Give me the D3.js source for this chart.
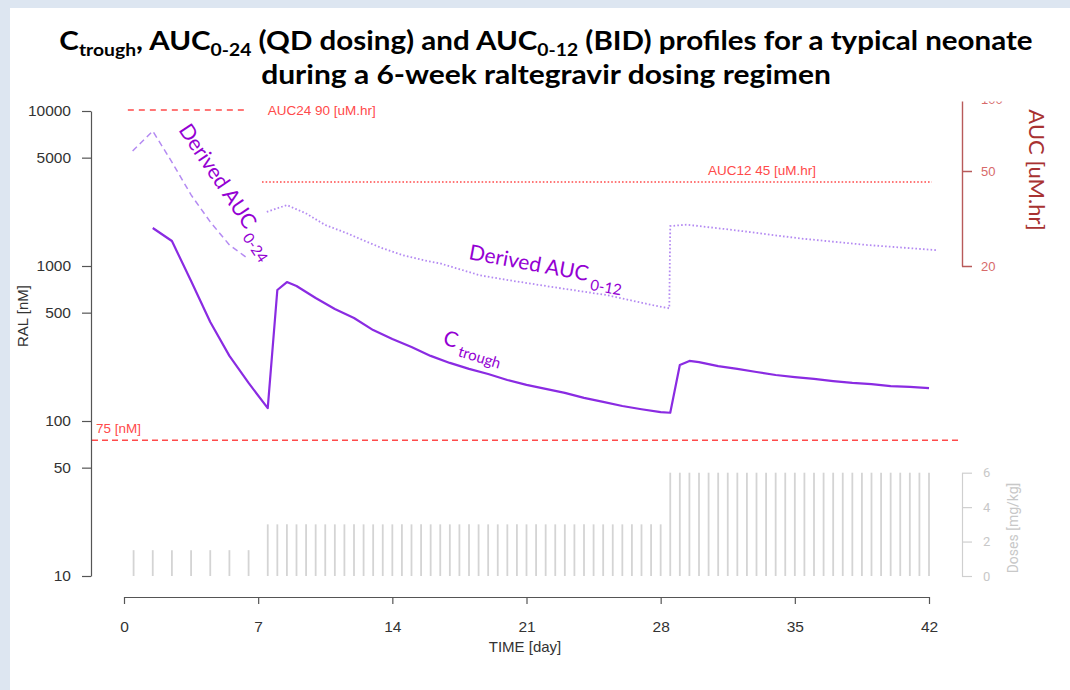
<!DOCTYPE html>
<html><head><meta charset="utf-8">
<script src="https://cdn.jsdelivr.net/npm/d3@7"></script>
<style>body{margin:0;background:#fff}svg{display:block}</style>
</head><body><svg id="c" width="1070" height="690"></svg>
<script>
// ---------- data ----------
const xTicks = [0, 7, 14, 21, 28, 35, 42];
const leftTicks = [10, 50, 100, 500, 1000, 5000, 10000];
const aucTicks = [20, 50, 100];
const doseTicks = [0, 2, 4, 6];

const ctroughDays = [1.5, 2.5, 3.5, 4.5, 5.5, 6.5, 7.5, 8.0, 8.5, 9, 10, 11, 12, 13, 14, 15, 16, 17, 18, 19, 20, 21, 22, 23, 24, 25, 26, 27, 28, 28.5, 29, 29.5, 30, 31, 32, 33, 34, 35, 36, 37, 38, 39, 40, 41, 42];
const ctroughValues = [1758, 1449, 800, 435, 263, 176, 121, 700, 788, 743, 622, 528, 462, 386, 338, 300, 263, 237, 217, 201, 184, 171, 161, 152, 141, 133, 125, 119, 114, 113, 230, 244, 240, 226, 217, 207, 198, 192, 187, 181, 176, 173, 168, 166, 163];

const auc24Days = [0.45, 1.5, 2.5, 3.5, 4.5, 5.5, 6.5];
const auc24Values = [60.6, 73.5, 54.5, 39.7, 30.6, 24.5, 21.4];

const auc12Days = [7.45, 8.5, 9.5, 10.5, 11.6, 12.65, 13.5, 14.55, 15.8, 16.5, 18.55, 19.95, 22.2, 25.2, 27.6, 28.45, 28.5, 29.35, 31.8, 35.25, 38.75, 42.4];
const auc12Values = [33.7, 36.0, 33.2, 29.7, 27.5, 25.3, 23.7, 22.2, 21.0, 20.5, 18.3, 17.5, 16.4, 15.1, 13.7, 13.3, 29.4, 29.8, 28.3, 26.1, 24.5, 23.3];

const doseDays = [0.5, 1.5, 2.5, 3.5, 4.5, 5.5, 6.5,
  7.5, 8, 8.5, 9, 9.5, 10, 10.5, 11, 11.5, 12, 12.5, 13, 13.5, 14, 14.5, 15, 15.5, 16, 16.5, 17, 17.5, 18, 18.5, 19, 19.5, 20, 20.5, 21, 21.5, 22, 22.5, 23, 23.5, 24, 24.5, 25, 25.5, 26, 26.5, 27, 27.5, 28,
  28.5, 29, 29.5, 30, 30.5, 31, 31.5, 32, 32.5, 33, 33.5, 34, 34.5, 35, 35.5, 36, 36.5, 37, 37.5, 38, 38.5, 39, 39.5, 40, 40.5, 41, 41.5, 42];
const doseAmounts = [1.5, 1.5, 1.5, 1.5, 1.5, 1.5, 1.5,
  3, 3, 3, 3, 3, 3, 3, 3, 3, 3, 3, 3, 3, 3, 3, 3, 3, 3, 3, 3, 3, 3, 3, 3, 3, 3, 3, 3, 3, 3, 3, 3, 3, 3, 3, 3, 3, 3, 3, 3, 3, 3,
  6, 6, 6, 6, 6, 6, 6, 6, 6, 6, 6, 6, 6, 6, 6, 6, 6, 6, 6, 6, 6, 6, 6, 6, 6, 6, 6, 6];

const concTarget = 75;       // nM
const auc24Target = 90;      // uM.hr
const auc12Target = 45;      // uM.hr
const auc24RefDays = [0.2, 6.3];
const auc12RefDays = [7.2, 42.15];

// ---------- layout ----------
const svg = d3.select("#c");
svg.append("rect").attr("width", 1070).attr("height", 690).attr("fill", "#dde6f1");
svg.append("rect").attr("x", 10).attr("y", 8).attr("width", 1060).attr("height", 682).attr("fill", "#fff");

const x = d3.scaleLinear().domain([0, 42]).range([124, 929]);
const yL = d3.scaleLog().domain([10, 10000]).range([576, 111]);
const yA = d3.scaleLog().domain([20, 100]).range([266, 99.14]);
const yD = d3.scaleLinear().domain([0, 6]).range([576, 472.7]);
const axisX = 962;

const AR = "'Liberation Sans', Arial, sans-serif";
const HUM = "Lato, 'Open Sans', sans-serif";

// ---------- title ----------
function titleLine(y, parts, target) {
  const t = svg.append("text").attr("text-anchor", "middle").attr("font-family", HUM)
    .attr("font-weight", "bold").attr("font-size", 26).attr("fill", "#000");
  parts.forEach(p => {
    const ts = t.append("tspan").text(p[0]);
    if (p[1] === "sub") ts.attr("font-size", 17).attr("dy", 6);
    if (p[1] === "back") ts.attr("dy", -6);
  });
  const w = t.node().getBBox().width;
  t.attr("transform", `translate(546,${y}) scale(${target / w},1)`);
}
titleLine(50, [["C"], ["trough", "sub"], [", AUC", "back"], ["0-24", "sub"], [" (QD dosing) and AUC", "back"], ["0-12", "sub"], [" (BID) profiles for a typical neonate", "back"]], 974);
titleLine(84, [["during a 6-week raltegravir dosing regimen"]], 570);

// ---------- dose bars ----------
svg.append("g").selectAll("line").data(doseDays).join("line")
  .attr("x1", d => x(d)).attr("x2", d => x(d))
  .attr("y1", yD(0)).attr("y2", (d, i) => yD(doseAmounts[i]))
  .attr("stroke", "#d4d4d4").attr("stroke-width", 1.8);

// ---------- reference lines ----------
const red = "#ff4a4a";
svg.append("line").attr("x1", x(0) - 32).attr("x2", axisX).attr("y1", yL(concTarget)).attr("y2", yL(concTarget))
  .attr("stroke", red).attr("stroke-width", 1.5).attr("stroke-dasharray", "6,4");
svg.append("text").attr("x", 96).attr("y", yL(concTarget) - 7).attr("font-family", AR).attr("font-size", 13.5)
  .attr("fill", red).text(concTarget + " [nM]");

svg.append("line").attr("x1", x(auc24RefDays[0])).attr("x2", x(auc24RefDays[1])).attr("y1", yA(auc24Target)).attr("y2", yA(auc24Target))
  .attr("stroke", red).attr("stroke-width", 1.5).attr("stroke-dasharray", "6,5");
svg.append("text").attr("x", x(7.5)).attr("y", yA(auc24Target) + 5).attr("font-family", AR).attr("font-size", 13.5)
  .attr("fill", red).text("AUC24 " + auc24Target + " [uM.hr]");

svg.append("line").attr("x1", x(auc12RefDays[0])).attr("x2", x(auc12RefDays[1])).attr("y1", yA(auc12Target)).attr("y2", yA(auc12Target))
  .attr("stroke", red).attr("stroke-width", 1.5).attr("stroke-dasharray", "1.6,2");
svg.append("text").attr("x", 762).attr("y", yA(auc12Target) - 7).attr("text-anchor", "middle").attr("font-family", AR).attr("font-size", 13.5)
  .attr("fill", red).text("AUC12 " + auc12Target + " [uM.hr]");

// ---------- series ----------
const light = "#b48af2";
svg.append("path").datum(auc24Days.map((d, i) => [d, auc24Values[i]]))
  .attr("d", d3.line().x(d => x(d[0])).y(d => yA(d[1])))
  .attr("fill", "none").attr("stroke", light).attr("stroke-width", 1.5).attr("stroke-dasharray", "6,4");
svg.append("path").datum(auc12Days.map((d, i) => [d, auc12Values[i]]))
  .attr("d", d3.line().x(d => x(d[0])).y(d => yA(d[1])))
  .attr("fill", "none").attr("stroke", light).attr("stroke-width", 1.8).attr("stroke-dasharray", "1.6,2.2");
svg.append("path").datum(ctroughDays.map((d, i) => [d, ctroughValues[i]]))
  .attr("d", d3.line().x(d => x(d[0])).y(d => yL(d[1])))
  .attr("fill", "none").attr("stroke", "#8a2be2").attr("stroke-width", 2.2).attr("stroke-linejoin", "round");

// ---------- curve labels ----------
const purple = "#9400d3";
function curveLabel(px, py, ang, main, sub, subdy, fs) {
  const t = svg.append("text").attr("transform", `translate(${px},${py}) rotate(${ang})`)
    .attr("font-family", HUM).attr("font-size", fs).attr("fill", purple);
  t.append("tspan").text(main);
  t.append("tspan").attr("font-size", 15).attr("dy", subdy).attr("dx", 4).text(sub);
}
curveLabel(178, 130, 56, "Derived AUC", "0-24", 7, 21);
curveLabel(468, 259, 10.5, "Derived AUC", "0-12", 8, 21);
curveLabel(442, 344, 17, "C", "trough", 7, 21);

// ---------- axes ----------
const gx = svg.append("g").attr("transform", "translate(0,597)")
  .call(d3.axisBottom(x).tickValues(xTicks).tickSize(7).tickSizeOuter(0).tickPadding(17));
const gl = svg.append("g").attr("transform", "translate(91,0)")
  .call(d3.axisLeft(yL).tickValues(leftTicks).tickFormat(d3.format("d")).tickSize(9).tickSizeOuter(0).tickPadding(11));
[gx, gl].forEach(g => {
  g.selectAll("path,line").attr("stroke", "#555").attr("stroke-width", 1.2);
  g.selectAll("text").attr("font-family", AR).attr("font-size", 15.5).attr("fill", "#333");
});

svg.append("clipPath").attr("id", "aclip").append("rect").attr("x", 900).attr("y", 101.5).attr("width", 170).attr("height", 200);
const ga = svg.append("g").attr("clip-path", "url(#aclip)").append("g").attr("transform", `translate(${axisX},0)`)
  .call(d3.axisRight(yA).tickValues(aucTicks).tickFormat(d3.format("d")).tickSize(10).tickSizeOuter(0).tickPadding(9));
ga.selectAll("path,line").attr("stroke", "#b85a5a").attr("stroke-width", 1.4);
ga.selectAll("text").attr("font-family", AR).attr("font-size", 13).attr("fill", "#d76a6a");

const gd = svg.append("g").attr("transform", `translate(${axisX},0)`)
  .call(d3.axisRight(yD).tickValues(doseTicks).tickFormat(d3.format("d")).tickSize(10).tickSizeOuter(0).tickPadding(11));
gd.selectAll("path,line").attr("stroke", "#cfcfcf").attr("stroke-width", 1.2);
gd.selectAll("text").attr("font-family", "Roboto, sans-serif").attr("font-size", 13).attr("fill", "#c8c8c8");

// ---------- axis titles ----------
svg.append("text").attr("x", 525).attr("y", 652).attr("text-anchor", "middle").attr("font-family", AR)
  .attr("font-size", 15).attr("fill", "#333").text("TIME [day]");
svg.append("text").attr("transform", "translate(28,316) rotate(-90)").attr("text-anchor", "middle")
  .attr("font-family", AR).attr("font-size", 15).attr("fill", "#333").text("RAL [nM]");
svg.append("text").attr("transform", "translate(1029,170) rotate(90)").attr("text-anchor", "middle")
  .attr("font-family", HUM).attr("font-size", 22).attr("fill", "#a83232").text("AUC [uM.hr]");
svg.append("text").attr("transform", "translate(1018,528) rotate(-90)").attr("text-anchor", "middle")
  .attr("font-family", "Roboto, sans-serif").attr("font-size", 14).attr("fill", "#c8c8c8").text("Doses [mg/kg]");
</script></body></html>
